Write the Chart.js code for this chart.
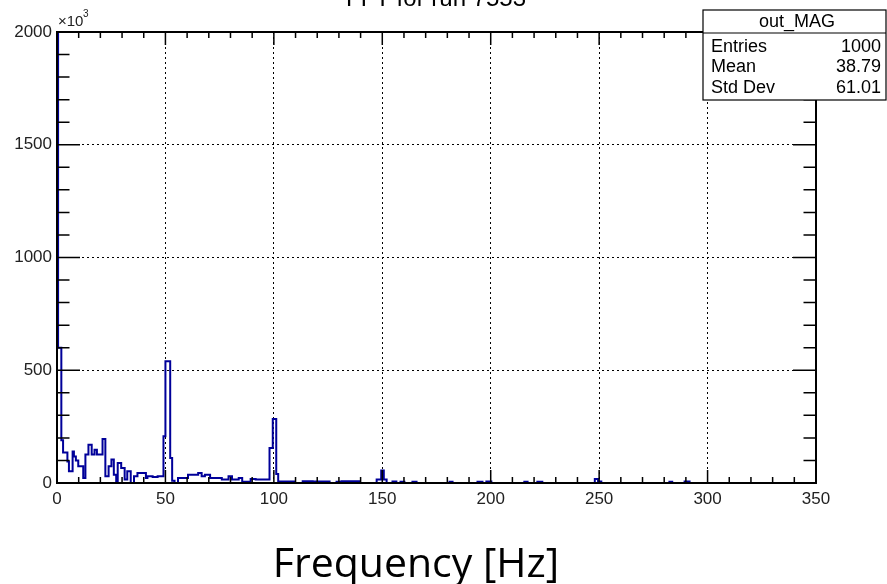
<!DOCTYPE html>
<html>
<head>
<meta charset="utf-8">
<script src="https://cdn.jsdelivr.net/npm/chart.js@4/dist/chart.umd.min.js"></script>
<style>
  body { margin: 0; background: #fff; }
  canvas { display: block; }
</style>
</head>
<body>
<canvas id="fft" width="887" height="584"></canvas>
<script>
// FFT magnitude spectrum (out_MAG), histogram outline, values in units of 10^3

const binStart = [
  0, 0.5, 2.0, 2.8, 4.8, 5.5, 7.2, 7.8, 8.7, 9.8, 12.1, 13.1, 14.5, 16.0, 17.3, 18.4,
  21.0, 22.3, 23.8, 25.1, 26.2, 27.3, 28.0, 29.6, 31.2, 32.4, 34.0, 35.5, 37.1, 41.0,
  41.7, 44.1, 46.4, 49.1, 50.0, 52.2, 53.1, 54.2, 55.8, 60.4, 65.1, 66.7, 68.2, 70.6,
  76.0, 79.1, 80.7, 83.8, 85.4, 89.3, 91.6, 98.0, 99.5, 101.1, 102.0, 102.7, 109.5,
  113.3, 117.9, 118.8, 125.7, 128.9, 130.3, 131.2, 139.5, 147.4, 149.5, 150.7, 152.0,
  154.7, 156.5, 158.4, 160.2, 163.9, 165.8, 181.0, 182.4, 193.9, 196.2, 198.0, 200.3,
  215.5, 217.0, 221.5, 223.8, 248.0, 249.5, 251.0, 282.4, 283.7, 289.4, 291.7
];
const magnitude = [
  2100, 600, 190, 135, 95, 52, 140, 118, 100, 74, 22, 126, 170, 126, 148, 126,
  195, 30, 74, 104, 37, 0, 89, 67, 15, 52, 0, 30, 44, 22,
  30, 27, 30, 207, 540, 111, 10, 0, 22, 37, 44, 30, 37, 22,
  15, 30, 15, 22, 5, 18, 15, 155, 284, 40, 5, 7, 0,
  8, 0, 7, 0, 5, 0, 8, 0, 15, 55, 15, 0,
  7, 0, 5, 0, 6, 0, 6, 0, 6, 0, 7, 0,
  5, 0, 6, 0, 18, 7, 0, 6, 0, 7, 0
];
const xTicks = [0, 50, 100, 150, 200, 250, 300, 350];
const yTicks = [0, 500, 1000, 1500, 2000];

const points = [{ x: 0, y: 0 }]
  .concat(binStart.map((x, i) => ({ x: x, y: magnitude[i] })))
  .concat([{ x: 350, y: 0 }]);

const rootFont = "'Liberation Sans', Arial, sans-serif";

// ROOT-style frame with ticks on all four sides, drawn over the histogram
const frameTicks = {
  id: 'frameTicks',
  afterDatasetsDraw(chart) {
    const { ctx, chartArea: a, scales: { x, y } } = chart;
    ctx.save();
    ctx.strokeStyle = '#000';
    ctx.lineWidth = 1.5;
    for (let v = 0; v <= 350; v += 10) {
      const px = x.getPixelForValue(v);
      const len = v % 50 === 0 ? 13 : 6;
      ctx.beginPath();
      ctx.moveTo(px, a.bottom); ctx.lineTo(px, a.bottom - len);
      ctx.moveTo(px, a.top); ctx.lineTo(px, a.top + len);
      ctx.stroke();
    }
    for (let v = 0; v <= 2000; v += 100) {
      const py = y.getPixelForValue(v);
      const len = v % 500 === 0 ? 23 : 12.5;
      ctx.beginPath();
      ctx.moveTo(a.left, py); ctx.lineTo(a.left + len, py);
      ctx.moveTo(a.right, py); ctx.lineTo(a.right - len, py);
      ctx.stroke();
    }
    ctx.lineWidth = 2;
    ctx.strokeRect(a.left, a.top, a.right - a.left, a.bottom - a.top);
    ctx.restore();
  },
  afterDraw(chart) {
    const { ctx, chartArea: a } = chart;
    ctx.save();
    ctx.fillStyle = '#000';

    // cut-off title at the very top
    ctx.font = '24px ' + rootFont;
    ctx.textAlign = 'center';
    ctx.textBaseline = 'alphabetic';
    ctx.fillText('FFT for run 7553', 436, 6);

    // exponent label of the y axis
    ctx.textAlign = 'left';
    ctx.font = '15px ' + rootFont;
    ctx.fillStyle = '#222';
    ctx.fillText('\u00d710', a.left + 1, a.top - 6);
    ctx.font = '10px ' + rootFont;
    ctx.fillText('3', a.left + 26, a.top - 15);

    // stats box
    const bx = 703, by = 10, bw = 183, bh = 90;
    ctx.fillStyle = '#fff';
    ctx.fillRect(bx, by, bw, bh);
    ctx.strokeStyle = '#000';
    ctx.lineWidth = 1.2;
    ctx.strokeRect(bx, by, bw, bh);
    ctx.beginPath();
    ctx.moveTo(bx, 33); ctx.lineTo(bx + bw, 33);
    ctx.stroke();
    ctx.fillStyle = '#000';
    ctx.font = '18px ' + rootFont;
    ctx.textBaseline = 'middle';
    ctx.textAlign = 'center';
    ctx.fillText('out_MAG', 797, 22);
    const rows = [['Entries', '1000', 47], ['Mean', '38.79', 67], ['Std Dev', '61.01', 88]];
    rows.forEach(r => {
      ctx.textAlign = 'left';
      ctx.fillText(r[0], 711, r[2]);
      ctx.textAlign = 'right';
      ctx.fillText(r[1], 881, r[2]);
    });

    // axis title (slide text)
    ctx.font = "41px 'Open Sans', sans-serif";
    ctx.textAlign = 'center';
    ctx.textBaseline = 'alphabetic';
    ctx.fillText('Frequency [Hz]', 416, 577);
    ctx.restore();
  }
};

const innerLine = (edges) => (c) => {
  const v = c.tick && c.tick.value;
  return edges.includes(v) ? 'rgba(0,0,0,0)' : '#000';
};

new Chart(document.getElementById('fft'), {
  type: 'scatter',
  data: {
    datasets: [{
      label: 'out_MAG',
      data: points,
      showLine: true,
      stepped: true,
      borderColor: '#000099',
      borderWidth: 2,
      pointRadius: 0,
      fill: false
    }]
  },
  options: {
    responsive: false,
    animation: false,
    devicePixelRatio: 1,
    layout: { padding: { top: 32, right: 71, bottom: 0, left: 0 } },
    plugins: {
      legend: { display: false },
      tooltip: { enabled: false }
    },
    scales: {
      x: {
        type: 'linear',
        min: 0,
        max: 350,
        afterFit: (s) => { s.height = 101; },
        afterBuildTicks: (s) => { s.ticks = xTicks.map(v => ({ value: v })); },
        grid: { color: innerLine([0, 350]), lineWidth: 1, drawTicks: false },
        border: { display: false, dash: [2, 3] },
        ticks: {
          padding: 6,
          color: '#222',
          font: { family: rootFont, size: 17 },
          maxRotation: 0,
          callback: (v) => String(v)
        }
      },
      y: {
        type: 'linear',
        min: 0,
        max: 2000,
        afterFit: (s) => { s.width = 57; },
        afterBuildTicks: (s) => { s.ticks = yTicks.map(v => ({ value: v })); },
        grid: { color: innerLine([0, 2000]), lineWidth: 1, drawTicks: false },
        border: { display: false, dash: [2, 3] },
        ticks: {
          padding: 5,
          color: '#222',
          font: { family: rootFont, size: 17 },
          callback: (v) => String(v)
        }
      }
    }
  },
  plugins: [frameTicks]
});
</script>
</body>
</html>
